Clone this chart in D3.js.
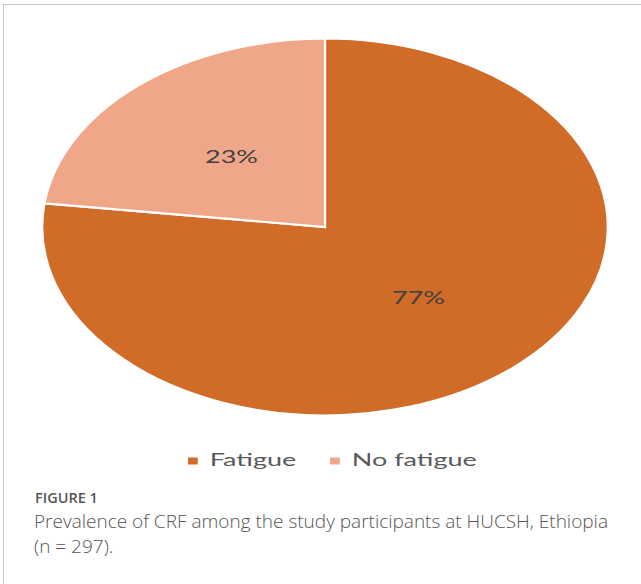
<!DOCTYPE html>
<html>
<head>
<meta charset="utf-8">
<script src="https://cdn.jsdelivr.net/npm/d3@7"></script>
<style>
  html, body { margin: 0; padding: 0; background: #fff; }
  svg { display: block; }
</style>
</head>
<body>
<svg id="chart" width="641" height="584"></svg>
<script>
// ---- data ----
const categories = ["Fatigue", "No fatigue"];
const values = [77, 23];
const valueLabels = ["77%", "23%"];
const colors = ["#D06B28", "#F0A789"];
const figureLabel = "FIGURE 1";
const captionLines = [
  "Prevalence of CRF among the study participants at HUCSH, Ethiopia",
  "(n = 297)."
];

// ---- layout ----
const W = 641, H = 584;
const SX = 1.5;           // horizontal stretch of the original figure
const cx = 325, cy = 227; // pie centre (screen)
const R = 188.5;          // vertical radius (screen)

const svg = d3.select("#chart");

// frame (top and left edges visible)
svg.append("rect")
  .attr("x", 3.5).attr("y", 4.5)
  .attr("width", 800).attr("height", 800)
  .attr("fill", "none").attr("stroke", "#c9c9c9").attr("stroke-width", 1);

const pie = d3.pie().sort(null).value(d => d);
const arcs = pie(values);
const arc = d3.arc().innerRadius(0).outerRadius(R);
const labelArc = d3.arc().innerRadius(R * 0.5).outerRadius(R * 0.5);

const g = svg.append("g")
  .attr("transform", `translate(${cx},${cy}) scale(${SX},1)`);

g.selectAll("path.slice")
  .data(arcs)
  .join("path")
  .attr("class", "slice")
  .attr("d", arc)
  .attr("fill", (d, i) => colors[i])
  .attr("stroke", "#fff")
  .attr("stroke-width", 2.2)
  .attr("vector-effect", "non-scaling-stroke")
  .attr("stroke-linejoin", "miter");

g.selectAll("text.lbl")
  .data(arcs)
  .join("text")
  .attr("class", "lbl")
  .attr("x", d => labelArc.centroid(d)[0])
  .attr("y", d => labelArc.centroid(d)[1] + 6.5)
  .attr("text-anchor", "middle")
  .attr("font-family", "Lato, 'Open Sans', sans-serif")
  .attr("font-size", 18)
  .attr("fill", "#404040")
  .text((d, i) => valueLabels[i]);

// legend (stretched like the figure)
const leg = svg.append("g")
  .attr("transform", `translate(188,466) scale(${SX},1)`);
let lx = 0;
categories.forEach((c, i) => {
  leg.append("rect")
    .attr("x", lx).attr("y", -8.5)
    .attr("width", 6.5).attr("height", 7)
    .attr("fill", colors[i]);
  const t = leg.append("text")
    .attr("x", lx + 14.5)
    .attr("y", 0)
    .attr("font-family", "Lato, 'Open Sans', sans-serif")
    .attr("font-size", 18)
    .attr("fill", "#595959")
    .text(c);
  lx += 14.5 + t.node().getComputedTextLength() + 22.5;
});

// caption
svg.append("text")
  .attr("x", 35).attr("y", 503)
  .attr("font-family", "'Open Sans', sans-serif")
  .attr("font-weight", 600)
  .attr("font-size", 14.5)
  .attr("fill", "#555")
  .text(figureLabel);

svg.selectAll("text.cap")
  .data(captionLines)
  .join("text")
  .attr("class", "cap")
  .attr("x", 34)
  .attr("y", (d, i) => 528 + i * 25)
  .attr("font-family", "'Open Sans', sans-serif")
  .attr("font-weight", 300)
  .attr("font-size", 19)
  .attr("fill", "#555")
  .text(d => d);
</script>
</body>
</html>
